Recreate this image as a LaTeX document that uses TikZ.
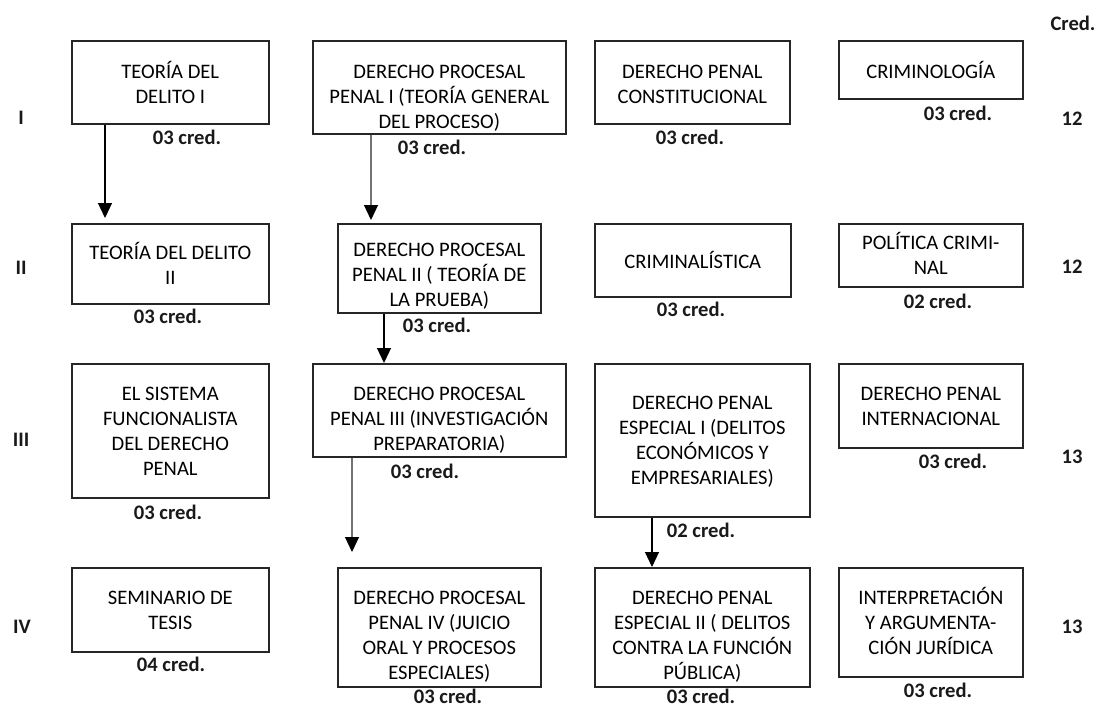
\documentclass[tikz,border=0pt]{standalone}
\usepackage{fontspec}
\setmainfont{Carlito}
\usetikzlibrary{arrows.meta}

% text of a course box, optional argument moves it down
\newcommand{\crs}[2][0pt]{\raisebox{\dimexpr-#1-3.4pt\relax}[0pt][0pt]{\begin{tabular}{@{}c@{}}#2\end{tabular}}}

\tikzset{
  box/.style 2 args={draw=black!85,line width=0.8pt,anchor=north west,minimum width=#1,minimum height=#2,inner sep=0pt,font=\fontsize{10.3}{12.5}\selectfont},
  cred/.style={inner sep=0pt,text=black!90,font=\fontsize{10.3}{12.5}\selectfont\bfseries},
  arr/.style={line width=0.6pt,-{Triangle[width=7pt,length=7.5pt]}},
  greyarr/.style={arr,draw=black!55,-{Triangle[width=7pt,length=7.5pt,color=black]}},
}

\begin{document}
\begin{tikzpicture}[x=0.5pt,y=-0.5pt]
    \useasboundingbox (0,0) rectangle (1097,707);

    % semester I
    \node[box={98.5pt}{41.5pt}] (td1) at (71,40) {\crs[1pt]{TEORÍA DEL\\DELITO I}};
    \node[box={126.5pt}{46.5pt}] (dpp1) at (312,40) {\crs[4.75pt]{DERECHO PROCESAL\\PENAL I (TEORÍA GENERAL\\DEL PROCESO)}};
    \node[box={97.5pt}{41.5pt}] (dpconst) at (594,40) {\crs[1pt]{DERECHO PENAL\\CONSTITUCIONAL}};
    \node[box={92pt}{29pt}] (crimino) at (838,40) {\crs[1pt]{CRIMINOLOGÍA}};

    % semester II
    \node[box={98.5pt}{40pt}] (td2) at (71,223) {\crs[0.75pt]{TEORÍA DEL DELITO\\II}};
    \node[box={101.5pt}{44.5pt}] (dpp2) at (337,223) {\crs[3.25pt]{DERECHO PROCESAL\\PENAL II ( TEORÍA DE\\LA PRUEBA)}};
    \node[box={98pt}{36.5pt}] (crimina) at (594,223) {\crs[0.75pt]{CRIMINALÍSTICA}};
    \node[box={92pt}{31.5pt}] (polcrim) at (838,223) {\crs{POLÍTICA CRIMI-\\NAL}};

    % semester III
    \node[box={98.5pt}{67pt}] (sisfun) at (71,363) {\crs{EL SISTEMA\\FUNCIONALISTA\\DEL DERECHO\\PENAL}};
    \node[box={126.5pt}{46.5pt}] (dpp3) at (312,363) {\crs[4.25pt]{DERECHO PROCESAL\\PENAL III (INVESTIGACIÓN\\PREPARATORIA)}};
    \node[box={107.5pt}{76.5pt}] (dpe1) at (594,363) {\crs{DERECHO PENAL\\ESPECIAL I (DELITOS\\ECONÓMICOS Y\\EMPRESARIALES)}};
    \node[box={92pt}{42pt}] (dpint) at (838,363) {\crs{DERECHO PENAL\\INTERNACIONAL}};

    % semester IV
    \node[box={98.5pt}{42pt}] (semtes) at (71,567) {\crs{SEMINARIO DE\\TESIS}};
    \node[box={101.5pt}{59.5pt}] (dpp4) at (337,567) {\crs[4pt]{DERECHO PROCESAL\\PENAL IV (JUICIO\\ORAL Y PROCESOS\\ESPECIALES)}};
    \node[box={107.5pt}{59.5pt}] (dpe2) at (594,567) {\crs[4pt]{DERECHO PENAL\\ESPECIAL II ( DELITOS\\CONTRA LA FUNCIÓN\\PÚBLICA)}};
    \node[box={92pt}{54.5pt}] (interp) at (838,567) {\crs{INTERPRETACIÓN\\Y ARGUMENTA-\\CIÓN JURÍDICA}};

    % credits of each course
    \node[cred] (td1_c) at (187,137) {03 cred.};
    \node[cred] (dpp1_c) at (432,147) {03 cred.};
    \node[cred] (dpconst_c) at (690,137) {03 cred.};
    \node[cred] (crimino_c) at (958,113) {03 cred.};
    \node[cred] (td2_c) at (168,316) {03 cred.};
    \node[cred] (dpp2_c) at (437,325) {03 cred.};
    \node[cred] (crimina_c) at (691,309) {03 cred.};
    \node[cred] (polcrim_c) at (938,301) {02 cred.};
    \node[cred] (sisfun_c) at (168,512) {03 cred.};
    \node[cred] (dpp3_c) at (425,471) {03 cred.};
    \node[cred] (dpe1_c) at (701,530) {02 cred.};
    \node[cred] (dpint_c) at (953,461) {03 cred.};
    \node[cred] (semtes_c) at (171,664) {04 cred.};
    \node[cred] (dpp4_c) at (448,696) {03 cred.};
    \node[cred] (dpe2_c) at (701,696) {03 cred.};
    \node[cred] (interp_c) at (938,690) {03 cred.};

    % semesters and totals
    \node[cred] (sem_I) at (21,118) {I};
    \node[cred] (sem_II) at (21,268) {II};
    \node[cred] (sem_III) at (21,440) {III};
    \node[cred] (sem_IV) at (22,627) {IV};
    \node[cred] (tot_head) at (1073,23) {Cred.};
    \node[cred] (tot_I) at (1072,119) {12};
    \node[cred] (tot_II) at (1072,267) {12};
    \node[cred] (tot_III) at (1072,457) {13};
    \node[cred] (tot_IV) at (1072,627) {13};

    \draw[arr] ([xshift=17pt]td1.south west) -- ([xshift=17pt,yshift=2.5pt]td2.north west) ;
    \draw[greyarr] ([xshift=29.5pt]dpp1.south west) -- ([xshift=17pt,yshift=1.5pt]dpp2.north west) ;
    \draw[arr] ([xshift=23.5pt]dpp2.south west) -- ([xshift=36pt]dpp3.north west) ;
    \draw[greyarr] ([xshift=20pt]dpp3.south west) -- ([xshift=7.5pt,yshift=7.5pt]dpp4.north west) ;
    \draw[arr] ([xshift=29pt]dpe1.south west) -- ([xshift=29pt]dpe2.north west) ;
\end{tikzpicture}
\end{document}
